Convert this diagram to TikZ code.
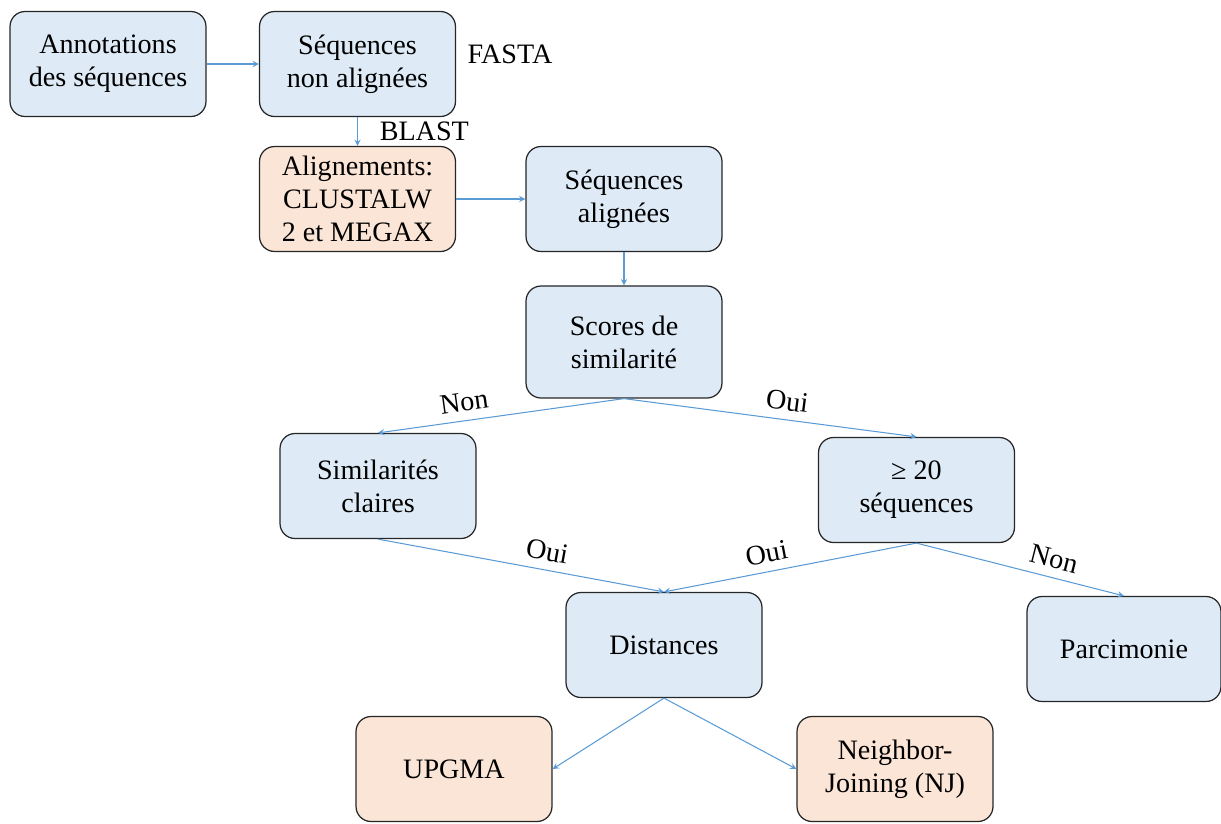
\documentclass[tikz,border=0pt]{standalone}
\usepackage{fontspec}
\setmainfont{Liberation Serif}
\definecolor{boxblue}{HTML}{DEEBF7}
\definecolor{boxorange}{HTML}{FBE5D6}
\definecolor{arrowblue}{HTML}{5B9BD5}
\tikzset{
    etape/.style={draw=black!85, line width=0.7pt, rounded corners=0.3cm, fill=boxblue,
        minimum width=3.92cm, minimum height=2.1cm, align=center, inner sep=2pt,
        font=\fontsize{16}{18.8}\selectfont},
    outil/.style={etape, fill=boxorange},
    fleche/.style={->, arrowblue, line width=0.6pt},
    etiquette/.style={text=black, inner sep=1pt, font=\fontsize{16}{18.8}\selectfont}
}
\begin{document}
\begin{tikzpicture}[x=0.02cm, y=-0.02cm, >=stealth]
    \useasboundingbox (0,0) rectangle (1221,823);

    % Préparation des séquences
    \node[etape] (annot) at (108, 64) {Annotations\\des séquences};
    \node[etape] (seqna) at (357.5, 64) {Séquences\\non alignées};
    \node[etiquette] (fasta) at (510, 54) {FASTA};
    \node[outil] (align) at (357.5, 199) {Alignements:\\CLUSTALW\\2 et MEGAX};
    \node[etape] (seqal) at (624, 199) {Séquences\\alignées};

    % Choix de la méthode
    \node[etape, minimum height=2.24cm] (scores) at (624, 342) {Scores de\\similarité};
    \node[etape] (simcl) at (378, 486) {Similarités\\claires};
    \node[etape] (nbseq) at (916.5, 490) {≥ 20\\séquences};
    \node[etape] (dist) at (664, 645) {Distances};
    \node[etape, minimum width=3.88cm] (parci) at (1124, 649) {Parcimonie};

    % Méthodes de distance
    \node[outil] (upgma) at (454, 769) {UPGMA};
    \node[outil] (nj) at (895, 769) {Neighbor-\\Joining (NJ)};

    % Flèches
    \draw[fleche] (annot) -- (seqna);
    \draw[fleche] (seqna) -- node[etiquette, right, xshift=0.4cm] (blast) {BLAST} (align);
    \draw[fleche] (align) -- (seqal);
    \draw[fleche] (seqal) -- (scores);
    \draw[fleche] (scores.south) -- node[etiquette, sloped, above, pos=0.64, yshift=4pt] (non1) {Non} (simcl.north);
    \draw[fleche] (scores.south) -- node[etiquette, sloped, above, pos=0.55, yshift=4pt] (oui1) {Oui} (nbseq.north);
    \draw[fleche] (simcl.south) -- node[etiquette, sloped, above, pos=0.58, yshift=4pt] (oui2) {Oui} (dist.north);
    \draw[fleche] (nbseq.south) -- node[etiquette, sloped, above, pos=0.58, yshift=4pt] (oui3) {Oui} (dist.north);
    \draw[fleche] (nbseq.south) -- node[etiquette, sloped, above, pos=0.64, yshift=4pt] (non2) {Non} (parci.north);
    \draw[fleche] (dist.south) -- (upgma.east);
    \draw[fleche] (dist.south) -- (nj.west);
\end{tikzpicture}
\end{document}
